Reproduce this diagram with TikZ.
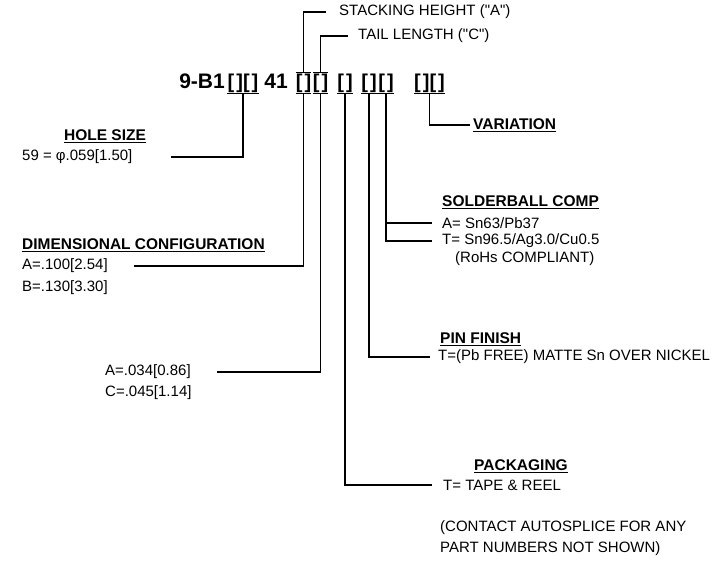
\documentclass[tikz,border=0pt]{standalone}
\usepackage{fontspec}
\setmainfont{Liberation Sans}
\usetikzlibrary{positioning}

\begin{document}
\begin{tikzpicture}[x=1pt,y=-1pt,
        slot/.style={inner xsep=0pt,inner ysep=1pt,anchor=base,
                     font=\fontsize{20}{22}\selectfont\bfseries},
        pn/.style={inner sep=0pt,anchor=base east,
                   font=\fontsize{21}{23}\selectfont\bfseries},
        txt/.style={inner sep=0pt,anchor=west,font=\fontsize{15}{17}\selectfont},
        hd/.style={inner sep=0pt,anchor=west,font=\fontsize{15.5}{17}\selectfont\bfseries},
        ln/.style={draw=black,line width=1.2pt}
      ]
        \useasboundingbox (0,0) rectangle (726,566);
        % part number
        \node[pn] (p1) at (225,88) {9-B1};
        \node[slot] (g1) at (243,88) {[\kern2pt][\kern2pt]};
        \node[pn] (p2) at (288,88) {41};
        \node[slot] (g2a) at (303.5,88) {[\kern2pt]};
        \node[slot] (g2b) at (320.5,88) {[\kern2pt]};
        \node[slot] (g3) at (345,88) {[\kern2pt]};
        \node[slot] (g4a) at (369,88) {[\kern2pt]};
        \node[slot] (g4b) at (386,88) {[\kern2pt]};
        \node[slot] (g5) at (429.5,88) {[\kern2pt][\kern2pt]};
        \foreach \s in {g1,g2a,g2b,g3,g5}
          \draw[ln] (\s.south west) -- (\s.south east);
        \draw[ln] (g4a.south west) -- (g4b.south east);
        \draw[ln] (g2a.north west) -- (g2a.north east);
        \draw[ln] (g2b.north west) -- (g2b.north east);

        % labels
        \node[txt] (stackTx) at (339,12) {STACKING HEIGHT (\textquotedbl A\textquotedbl)};
        \node[txt] (tailTx) at (358,36) {TAIL LENGTH (\textquotedbl C\textquotedbl)};
        \node[hd,anchor=center] (holeHd) at (105,136) {\underline{HOLE SIZE}};
        \node[txt] (holeTx) at (22,157) {59 = φ.059[1.50]};
        \node[hd] (dimHd) at (22,245) {\underline{DIMENSIONAL CONFIGURATION}};
        \node[txt] (dimA) at (22,266) {A=.100[2.54]};
        \node[txt] (dimB) at (22,288) {B=.130[3.30]};
        \node[txt] (tailA) at (105,372) {A=.034[0.86]};
        \node[txt] (tailC) at (105,393) {C=.045[1.14]};
        \node[hd] (varHd) at (473,125) {\underline{VARIATION}};
        \node[hd] (solderHd) at (442,202) {\underline{SOLDERBALL COMP}};
        \node[txt] (solderA) at (442,223) {A= Sn63/Pb37};
        \node[txt] (solderT) at (442,241) {T= Sn96.5/Ag3.0/Cu0.5};
        \node[txt] (solderR) at (455,259) {(RoHs COMPLIANT)};
        \node[hd] (pinHd) at (440,339) {\underline{PIN FINISH}};
        \node[txt] (pinT) at (438,357) {T=(Pb FREE) MATTE Sn OVER NICKEL};
        \node[hd,anchor=east] (packHd) at (568,466) {\underline{PACKAGING}};
        \node[txt] (packT) at (443,485) {T= TAPE \& REEL};
        \node[txt] (note1) at (440,528) {(CONTACT AUTOSPLICE FOR ANY};
        \node[txt] (note2) at (440,549) {PART NUMBERS NOT SHOWN)};

        % leaders
        \draw[ln] (g2a.north) |- ([xshift=-13]stackTx.west);
        \draw[ln] (g2b.north) |- ([xshift=-10]tailTx.west);
        \draw[ln] (g1.south) |- ([xshift=38]holeTx.east);
        \draw[ln] (g2a.south) |- ([xshift=26]dimA.east);
        \draw[ln] (g2b.south) |- ([xshift=26]tailA.east);
        \draw[ln] (g3.south) |- ([xshift=-11]packT.west);
        \draw[ln] (g4a.south) |- ([xshift=-8]pinT.west);
        \draw[ln] (g4b.south) |- ([xshift=-10]solderT.west);
        \draw[ln] (g4b.south |- solderA.west) -- ([xshift=-10]solderA.west);
        \draw[ln] (g5.south) |- ([xshift=-3]varHd.west);
\end{tikzpicture}
\end{document}
